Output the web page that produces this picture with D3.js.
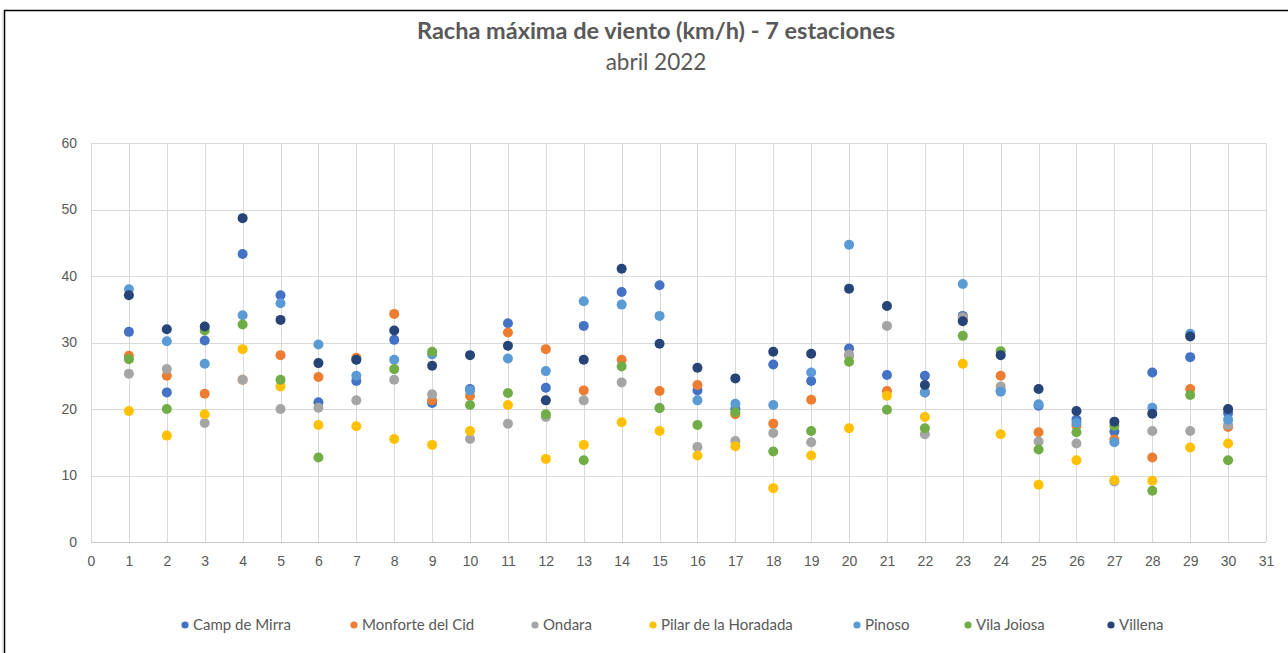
<!DOCTYPE html>
<html>
<head>
<meta charset="utf-8">
<script src="https://cdn.jsdelivr.net/npm/d3@7"></script>
<style>
  html, body { margin: 0; padding: 0; background: #fff; }
  svg { display: block; font-family: Lato, "Open Sans", sans-serif; }
  .grid line { stroke: #d9d9d9; stroke-width: 1; }
  .axis text { fill: #595959; font-size: 14px; }
</style>
</head>
<body>
<svg id="chart" width="1288" height="653"></svg>
<script>
// Racha máxima de viento, abril 2022, 7 estaciones (km/h por día)
var days = d3.range(1, 31);
var stations = ['Camp de Mirra', 'Monforte del Cid', 'Ondara', 'Pilar de la Horadada', 'Pinoso', 'Vila Joiosa', 'Villena'];
var colors = ['#4472C4', '#ED7D31', '#A5A5A5', '#FFC000', '#5B9BD5', '#70AD47', '#264478'];

var campDeMirra = [31.6, 22.5, 30.3, 43.3, 37.1, 21.0, 24.2, 30.4, 20.9, 23.0, 32.9, 23.2, 32.5, 37.6, 38.6, 22.8, 20.0, 26.7, 24.2, 29.1, 25.1, 25.0, 34.0, 22.8, 20.5, 18.4, 16.6, 25.5, 27.8, 19.4];
var monforte    = [28.0, 25.0, 22.3, 24.4, 28.1, 24.8, 27.7, 34.3, 21.3, 22.0, 31.5, 29.0, 22.8, 27.4, 22.7, 23.6, 19.2, 17.8, 21.4, 28.0, 22.7, 22.5, 33.5, 25.0, 16.5, 17.5, 15.4, 12.7, 23.0, 17.3];
var ondara      = [25.3, 26.0, 17.9, 24.4, 20.0, 20.2, 21.3, 24.4, 22.2, 15.5, 17.8, 18.8, 21.3, 24.0, 20.2, 14.3, 15.2, 16.4, 15.0, 28.2, 32.5, 16.2, 33.8, 23.4, 15.1, 14.8, 9.1, 16.7, 16.7, 17.6];
var pilar       = [19.7, 16.0, 19.2, 29.0, 23.4, 17.6, 17.4, 15.5, 14.6, 16.7, 20.6, 12.5, 14.6, 18.0, 16.7, 13.0, 14.4, 8.1, 13.0, 17.1, 22.0, 18.8, 26.8, 16.2, 8.6, 12.3, 9.3, 9.2, 14.2, 14.8];
var pinoso      = [38.0, 30.2, 26.8, 34.1, 35.9, 29.7, 25.0, 27.4, 28.2, 22.8, 27.6, 25.7, 36.2, 35.7, 34.0, 21.3, 20.8, 20.6, 25.5, 44.7, null, 22.5, 38.8, 22.6, 20.7, 17.9, 15.0, 20.2, 31.3, 18.4];
var vilaJoiosa  = [27.5, 20.0, 31.8, 32.7, 24.4, 12.7, 27.4, 26.0, 28.6, 20.6, 22.4, 19.2, 12.3, 26.4, 20.1, 17.6, 19.5, 13.6, 16.7, 27.1, 19.9, 17.1, 31.0, 28.7, 13.9, 16.5, 17.5, 7.7, 22.1, 12.3];
var villena     = [37.1, 32.0, 32.4, 48.7, 33.4, 26.9, 27.4, 31.8, 26.5, 28.1, 29.5, 21.3, 27.4, 41.1, 29.8, 26.2, 24.6, 28.6, 28.3, 38.1, 35.5, 23.6, 33.2, 28.1, 23.0, 19.7, 18.1, 19.3, 30.9, 20.0];

var seriesValues = [campDeMirra, monforte, ondara, pilar, pinoso, vilaJoiosa, villena];
var xTicks = d3.range(0, 32);
var yTicks = [0, 10, 20, 30, 40, 50, 60];
var legendX = [185, 354, 535, 653, 857, 968, 1111];

var svg = d3.select('#chart');
var W = 1288, H = 653;
var m = { left: 91, right: 22, top: 143, bottom: 111 };

var x = d3.scaleLinear().domain([0, 31]).range([m.left, W - m.right]);
var y = d3.scaleLinear().domain([0, 60]).range([H - m.bottom, m.top]);

// Frame (only top and left edges show in the screenshot)
svg.append('line').attr('x1', 4).attr('x2', W).attr('y1', 10.5).attr('y2', 10.5)
    .attr('stroke', '#000').attr('stroke-width', 1.5);
svg.append('line').attr('x1', 4.5).attr('x2', 4.5).attr('y1', 10).attr('y2', H)
    .attr('stroke', '#000').attr('stroke-width', 1.5);
svg.append('line').attr('x1', 3).attr('x2', 3).attr('y1', 12).attr('y2', H)
    .attr('stroke', '#ccc').attr('stroke-width', 1);

// Title
svg.append('text')
    .attr('x', 656).attr('y', 39)
    .attr('text-anchor', 'middle')
    .attr('font-size', 23.5).attr('font-weight', 'bold')
    .attr('fill', '#595959')
    .text('Racha máxima de viento (km/h) - 7 estaciones');
svg.append('text')
    .attr('x', 656).attr('y', 70)
    .attr('text-anchor', 'middle')
    .attr('font-size', 22.5)
    .attr('fill', '#595959')
    .text('abril 2022');

// Grid
var grid = svg.append('g').attr('class', 'grid');
yTicks.forEach(function (v) {
    grid.append('line')
        .attr('x1', x(0)).attr('x2', x(31))
        .attr('y1', Math.round(y(v)) + 0.5).attr('y2', Math.round(y(v)) + 0.5);
});
xTicks.forEach(function (d) {
    grid.append('line')
        .attr('x1', Math.round(x(d)) + 0.5).attr('x2', Math.round(x(d)) + 0.5)
        .attr('y1', y(60)).attr('y2', y(0));
});
// x-axis baseline slightly darker
svg.append('line')
    .attr('x1', x(0)).attr('x2', x(31))
    .attr('y1', Math.round(y(0)) + 0.5).attr('y2', Math.round(y(0)) + 0.5)
    .attr('stroke', '#c8c8c8');

// Axes
var ax = svg.append('g').attr('class', 'axis')
    .attr('transform', 'translate(0,' + y(0) + ')')
    .call(d3.axisBottom(x).tickValues(xTicks).tickFormat(d3.format('d')).tickSize(0).tickPadding(14));
ax.select('.domain').remove();
var ay = svg.append('g').attr('class', 'axis')
    .attr('transform', 'translate(' + x(0) + ',0)')
    .call(d3.axisLeft(y).tickValues(yTicks).tickFormat(d3.format('d')).tickSize(0).tickPadding(14));
ay.select('.domain').remove();

// Points
stations.forEach(function (name, si) {
    var pts = days.map(function (d, i) { return { day: d, v: seriesValues[si][i] }; })
        .filter(function (p) { return p.v != null; });
    svg.append('g').selectAll('circle')
        .data(pts).enter().append('circle')
        .attr('cx', function (p) { return x(p.day); })
        .attr('cy', function (p) { return y(p.v); })
        .attr('r', 5)
        .attr('fill', colors[si]);
});

// Legend
var lg = svg.append('g');
stations.forEach(function (name, si) {
    lg.append('circle')
        .attr('cx', legendX[si]).attr('cy', 625)
        .attr('r', 3.6).attr('fill', colors[si]);
    lg.append('text')
        .attr('x', legendX[si] + 8).attr('y', 630)
        .attr('font-size', 15).attr('fill', '#595959')
        .text(name);
});
</script>
</body>
</html>
